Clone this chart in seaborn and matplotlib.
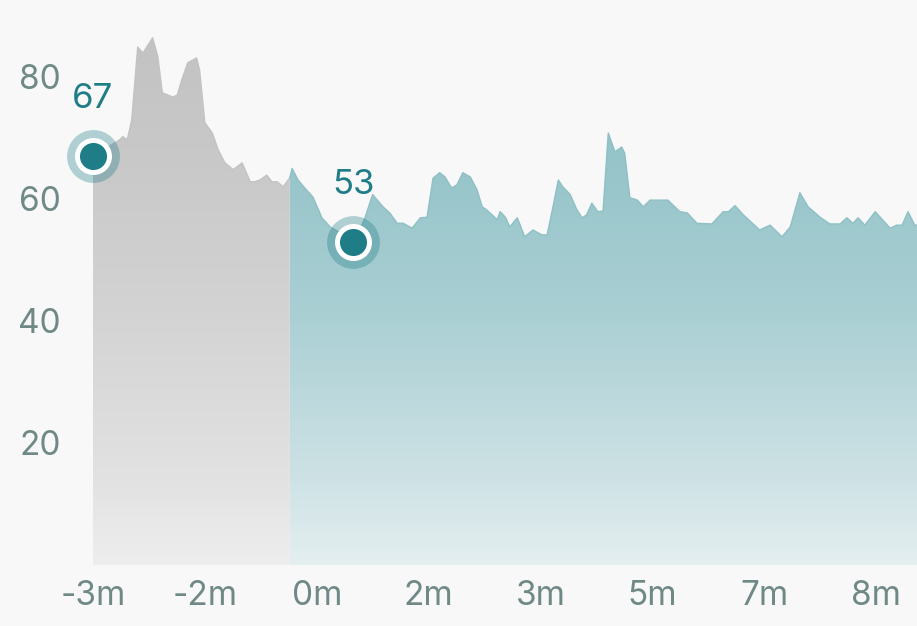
import numpy as np
import pandas as pd
import matplotlib
matplotlib.use("Agg")
import matplotlib.pyplot as plt
from matplotlib.colors import LinearSegmentedColormap
import seaborn as sns

# Heart rate before the event (minutes, bpm)
pre_time = [-3.00, -2.64, -2.60, -2.54, -2.48, -2.40, -2.33, -2.20, -2.13, -2.07,
            -1.93, -1.87, -1.81, -1.73, -1.61, -1.57, -1.50, -1.40, -1.32, -1.23,
            -1.12, -1.00, -0.89, -0.83, -0.76, -0.67, -0.60, -0.53, -0.45, -0.40,
            -0.36]
pre_bpm = [67, 69.7, 70.2, 69.7, 73, 84.9, 83.9, 86.4, 83.3, 77.4,
           76.7, 77, 79.5, 82.3, 83.1, 81.1, 72.5, 70.8, 68, 65.9,
           64.8, 65.9, 62.8, 62.8, 63.1, 63.9, 62.8, 62.8, 62, 62.8,
           63.5]

# Heart rate after the event
post_time = [-0.36, -0.33, -0.25, -0.16, -0.05, 0.07, 0.18, 0.31, 0.49, 0.58,
             0.65, 0.75, 0.89, 0.98, 1.08, 1.16, 1.28, 1.39, 1.48, 1.56,
             1.65, 1.72, 1.81, 1.88, 1.96, 2.06, 2.15, 2.22, 2.28, 2.35,
             2.42, 2.46, 2.53, 2.59, 2.69, 2.79, 2.90, 3.02, 3.09, 3.16,
             3.24, 3.30, 3.40, 3.49, 3.56, 3.62, 3.69, 3.77, 3.84, 3.91,
             4.00, 4.09, 4.13, 4.20, 4.30, 4.38, 4.47, 4.71, 4.87, 4.97,
             5.10, 5.30, 5.45, 5.52, 5.61, 5.72, 5.94, 6.08, 6.24, 6.35,
             6.48, 6.59, 6.75, 6.88, 7.02, 7.11, 7.19, 7.26, 7.35, 7.49,
             7.69, 7.78, 7.85, 7.93, 8.02, 8.05]
post_bpm = [63.5, 65, 63.1, 61.8, 60.3, 56.9, 55.4, 54.5, 53, 55,
            57, 60.7, 58.7, 57.7, 56, 56, 55.2, 56.9, 57, 63.4,
            64.3, 63.6, 61.8, 62.3, 64.3, 63.6, 61.5, 58.7, 58.2, 57.4,
            56.6, 57.9, 57, 55.4, 56.9, 53.8, 54.9, 54.1, 54.1, 58.2,
            63.1, 62, 60.7, 58.2, 56.9, 57.4, 59.3, 57.9, 58, 70.8,
            67.7, 68.5, 67.5, 60.2, 59.8, 58.7, 59.8, 59.8, 57.9, 57.7,
            56, 55.9, 57.9, 57.9, 58.9, 57.4, 54.9, 55.7, 53.8, 55.4,
            61, 58.7, 57, 55.9, 55.9, 56.9, 56, 56.9, 55.7, 57.9,
            55.2, 55.7, 55.7, 57.9, 55.7, 55.7]

marker_time = [-3.00, 0.49]
marker_bpm = [67, 53]

tick_pos = [-3, -1.5, 0, 1.5, 3, 4.5, 6, 7.5]
tick_labels = ["-3m", "-2m", "0m", "2m", "3m", "5m", "7m", "8m"]
y_ticks = [20, 40, 60, 80]

BG = "#f8f8f8"
TEAL = "#1f7d88"
LABEL = "#6f8987"
YMAX = 92.6

sns.set_theme(style="white")
plt.rcParams["font.family"] = ["Inter", "DejaVu Sans"]

gray_cmap = LinearSegmentedColormap.from_list(
    "g", [(0, "#eeeeee"), (0.15, "#e2e2e2"), (0.45, "#d3d3d3"), (0.7, "#c9c9c9"), (1, "#c1c1c1")])
teal_cmap = LinearSegmentedColormap.from_list(
    "t", [(0, "#e4eff0"), (0.15, "#cee2e5"), (0.45, "#a9cfd3"), (0.7, "#97c5ca"), (1, "#8bbec4")])


def gradient_area(ax, x, y, cmap):
    poly = ax.fill_between(x, y, 0, facecolor="none", edgecolor="none")
    path = poly.get_paths()[0]
    grad = np.linspace(0, 1, 256).reshape(-1, 1)
    im = ax.imshow(grad, cmap=cmap, aspect="auto", origin="lower",
                   extent=[min(x), max(x), 0, YMAX], zorder=1)
    im.set_clip_path(path, ax.transData)
    # soft edge on top of the fill
    sns.lineplot(x=x, y=y, color=cmap(0.93), lw=1.0, ax=ax, zorder=2)


fig = plt.figure(figsize=(9.17, 6.26), dpi=100, facecolor=BG)
ax = fig.add_axes([80 / 917, 61 / 626, 837 / 917, 565 / 626])
ax.set_facecolor(BG)

gradient_area(ax, pre_time, pre_bpm, gray_cmap)
gradient_area(ax, post_time, post_bpm, teal_cmap)

# highlighted points
ax.scatter(marker_time, marker_bpm, s=1450, color=TEAL, alpha=0.33, lw=0, zorder=4, clip_on=False)
ax.scatter(marker_time, marker_bpm, s=710, color="white", lw=0, zorder=5, clip_on=False)
sns.scatterplot(x=marker_time, y=marker_bpm, s=380, color=TEAL, linewidth=0, ax=ax,
                zorder=6, clip_on=False)
for t, v in zip(marker_time, marker_bpm):
    ax.annotate(str(v), (t, v), xytext=(0, 41), textcoords="offset points",
                ha="center", va="center", fontsize=25, color=TEAL, zorder=7)

ax.set_xlim(-3.174, 8.05)
ax.set_ylim(0, YMAX)
ax.set_xticks(tick_pos)
ax.set_xticklabels(tick_labels)
ax.set_yticks(y_ticks)
ax.tick_params(axis="both", length=0, labelsize=24, labelcolor=LABEL)
ax.tick_params(axis="y", pad=14)
ax.tick_params(axis="x", pad=11)
sns.despine(ax=ax, left=True, bottom=True)
ax.grid(False)

fig.savefig("out.png", dpi=100, facecolor=BG)
